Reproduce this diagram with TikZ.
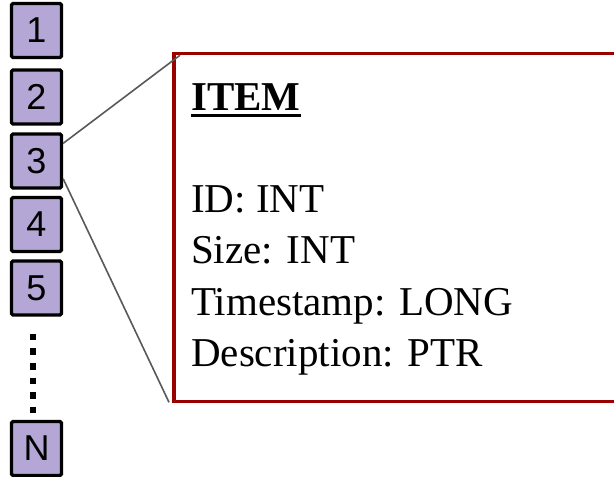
\documentclass[tikz,border=0pt]{standalone}
\usepackage{fontspec}
\setmainfont{Liberation Serif}
\newfontfamily\boxfont{Liberation Sans}
\usetikzlibrary{calc}
\definecolor{cellfill}{HTML}{B4A7D6}
\definecolor{itemred}{HTML}{990000}
\definecolor{linkgray}{HTML}{595959}
\tikzset{
  cell/.style={draw=black, line width=3.2pt, fill=cellfill, rounded corners=1.5pt,
    minimum width=50pt, minimum height=54pt, inner sep=0pt,
    font=\boxfont\fontsize{36}{40}\selectfont},
  itembox/.style={draw=itemred, line width=3.6pt, fill=white, inner sep=0pt,
    minimum width=520pt, minimum height=348pt, anchor=north west},
  field/.style={anchor=base west, inner sep=0pt, font=\fontsize{41}{48}\selectfont},
  link/.style={draw=linkgray, line width=1.6pt},
  more/.style={line width=6.6pt, dash pattern=on 6.6pt off 8pt}
}
\begin{document}
\begin{tikzpicture}[x=1pt,y=-1pt]
\useasboundingbox (0,0) rectangle (614,477);
\clip (0,0) rectangle (614,477);
\fill[white] (0,0) rectangle (614,477);
% item box
\node[itembox] (item) at (172,51.7) {};
% cells
\node[cell] (c1) at (36.5,30.5) {1};
\node[cell] (c2) at (36.5,97) {2};
\node[cell] (c3) at (36.5,161) {3};
\node[cell] (c4) at (36.5,224.5) {4};
\node[cell] (c5) at (36.5,288) {5};
\node[cell] (cN) at (36.5,448.5) {N};
% dots
\coordinate (dtop) at (33,333.7);
\coordinate (dbot) at (33,413.3);
\draw[more] (dtop) -- (dbot);
% fields
\node[field, font=\fontsize{41}{48}\selectfont\bfseries] (title) at (191,110) {ITEM};
\draw[line width=3pt] ([yshift=-5.5pt]title.base west) -- ([yshift=-5.5pt]title.base east);
\node[field] (f1) at (191,212) {ID: INT};
\node[field] (f2) at (191,263.5) {Size: INT};
\node[field] (f3) at (191,315) {Timestamp: LONG};
\node[field] (f4) at (191,366) {Description: PTR};
% connectors
\coordinate (a1) at ($(c3.north east)+(0,11)$);
\coordinate (a2) at ($(c3.south east)+(0,-11)$);
\coordinate (b1) at ($(item.north west)+(8,3.5)$);
\coordinate (b2) at ($(item.south west)+(-3,-1)$);
\draw[link] (a1) -- (b1);
\draw[link] (a2) -- (b2);
\end{tikzpicture}
\end{document}
